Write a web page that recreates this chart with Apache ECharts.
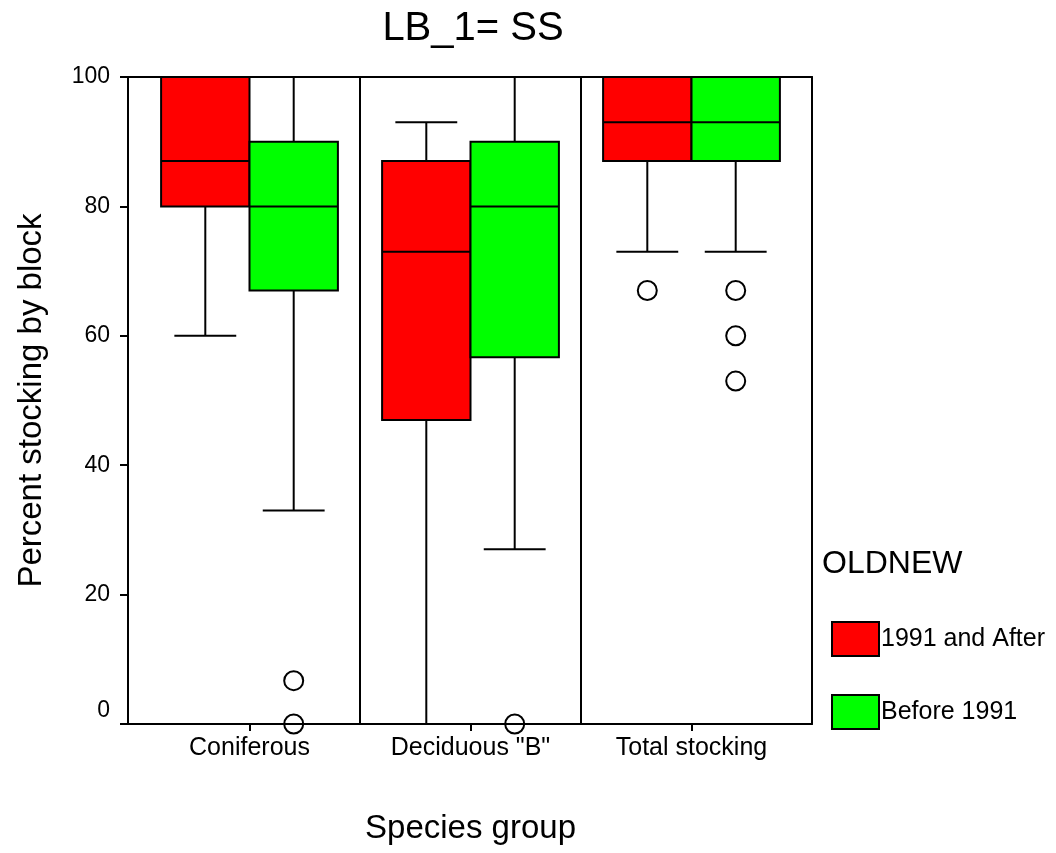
<!DOCTYPE html>
<html>
<head>
<meta charset="utf-8">
<title>LB_1= SS</title>
<script src="https://cdn.jsdelivr.net/npm/echarts@6/dist/echarts.min.js"></script>
<style>
  html, body { margin: 0; padding: 0; background: #fff; }
  #chart { width: 1056px; height: 853px; }
</style>
</head>
<body>
<div id="chart"></div>
<script>
// Species groups along the x axis
const categories = ['Coniferous', 'Deciduous "B"', 'Total stocking'];
// OLDNEW groups
const groupNames = ['1991 and After', 'Before 1991'];
const groupColors = ['#ff0000', '#00ff00'];

// Box statistics per category: [min, Q1, median, Q3, max]
const statsAfter1991 = [
  [60, 80, 87, 100, 100],
  [0, 47, 73, 87, 93],
  [73, 87, 93, 100, 100]
];
const statsBefore1991 = [
  [33, 67, 80, 90, 100],
  [27, 56.7, 80, 90, 100],
  [73, 87, 93, 100, 100]
];

// Outliers per group: [category index, value]
const outliersAfter1991 = [
  [2, 67]
];
const outliersBefore1991 = [
  [0, 6.7], [0, 0],
  [1, 0],
  [2, 67], [2, 60], [2, 53]
];

// Y axis ticks
const yMin = 0, yMax = 100, yStep = 20;

const FONT = '"Liberation Sans", Arial, sans-serif';
const BOX_FRAC = 0.4;   // box width as a share of the category band
const CAP_FRAC = 0.28;  // whisker cap width as a share of the band
const OFFSETS = [-0.2, 0.2]; // box centre offsets within the band

function toRows(stats) {
  return stats.map((s, i) => [i].concat(s));
}

function boxRenderer(offsetFrac) {
  return function (params, api) {
    const cat = api.value(0);
    const band = api.size([1, 0])[0];
    const cx = api.coord([cat, 0])[0] + offsetFrac * band;
    const py = (v) => api.coord([cat, v])[1];
    const yLo = py(api.value(1));
    const yQ1 = py(api.value(2));
    const yMed = py(api.value(3));
    const yQ3 = py(api.value(4));
    const yHi = py(api.value(5));
    const half = BOX_FRAC * band / 2;
    const capHalf = CAP_FRAC * band / 2;
    const ls = { stroke: '#000', lineWidth: 2, fill: null };
    return {
      type: 'group',
      children: [
        { type: 'line', shape: { x1: cx, y1: yQ3, x2: cx, y2: yHi }, style: ls },
        { type: 'line', shape: { x1: cx, y1: yQ1, x2: cx, y2: yLo }, style: ls },
        { type: 'line', shape: { x1: cx - capHalf, y1: yHi, x2: cx + capHalf, y2: yHi }, style: ls },
        { type: 'line', shape: { x1: cx - capHalf, y1: yLo, x2: cx + capHalf, y2: yLo }, style: ls },
        {
          type: 'rect',
          shape: { x: cx - half, y: yQ3, width: half * 2, height: yQ1 - yQ3 },
          style: { fill: api.visual('color'), stroke: '#000', lineWidth: 2 }
        },
        { type: 'line', shape: { x1: cx - half, y1: yMed, x2: cx + half, y2: yMed }, style: ls }
      ]
    };
  };
}

function outlierRenderer(offsetFrac) {
  return function (params, api) {
    const cat = api.value(0);
    const band = api.size([1, 0])[0];
    const p = api.coord([cat, api.value(1)]);
    return {
      type: 'circle',
      shape: { cx: p[0] + offsetFrac * band, cy: p[1], r: 9.5 },
      style: { fill: null, stroke: '#000', lineWidth: 2 }
    };
  };
}

const chart = echarts.init(document.getElementById('chart'), null, { renderer: 'canvas' });

const frameLine = { show: true, onZero: false, lineStyle: { color: '#000', width: 2 } };

const option = {
  backgroundColor: '#fff',
  animation: false,
  title: [
    {
      text: 'LB_1= SS',
      left: 468, top: 4, textAlign: 'center',
      textStyle: { fontFamily: FONT, fontSize: 40, fontWeight: 'normal', color: '#000' }
    },
    {
      text: 'OLDNEW',
      left: 817, top: 543,
      textStyle: { fontFamily: FONT, fontSize: 32, fontWeight: 'normal', color: '#000' }
    }
  ],
  legend: {
    orient: 'vertical',
    left: 831, top: 621,
    padding: 0,
    itemWidth: 47, itemHeight: 34, itemGap: 37,
    icon: 'rect',
    itemStyle: { borderColor: '#000', borderWidth: 2 },
    textStyle: { fontFamily: FONT, fontSize: 25, color: '#000', padding: [0, 0, 0, -3] },
    data: groupNames.map((n) => ({ name: n, icon: 'rect' }))
  },
  grid: [
    // plot frame with the value axis
    { left: 128, right: 244, top: 77, bottom: 129, outerBoundsMode: 'none' },
    // category band for the species groups
    { left: 139, right: 254, top: 77, bottom: 129, outerBoundsMode: 'none' }
  ],
  xAxis: [
    {
      gridIndex: 0, type: 'value', min: 0, max: 1, position: 'bottom',
      axisLine: frameLine, axisTick: { show: false }, axisLabel: { show: false }, splitLine: { show: false }
    },
    {
      gridIndex: 0, type: 'value', min: 0, max: 1, position: 'top',
      axisLine: frameLine, axisTick: { show: false }, axisLabel: { show: false }, splitLine: { show: false }
    },
    {
      gridIndex: 1, type: 'category', data: categories, boundaryGap: true,
      name: 'Species group', nameLocation: 'middle', nameGap: 88,
      nameTextStyle: { fontFamily: FONT, fontSize: 33, color: '#000' },
      axisLine: { show: false },
      axisTick: { show: true, alignWithLabel: true, length: 7, lineStyle: { color: '#000', width: 2 } },
      axisLabel: { fontFamily: FONT, fontSize: 25, color: '#000', margin: 12 },
      splitLine: {
        show: true,
        lineStyle: { color: ['rgba(0,0,0,0)', '#000', '#000', 'rgba(0,0,0,0)'], width: 2 }
      }
    }
  ],
  yAxis: [
    {
      gridIndex: 0, type: 'value', min: yMin, max: yMax, interval: yStep, position: 'left',
      name: 'Percent stocking by block', nameLocation: 'middle', nameGap: 80, nameRotate: 90,
      nameTextStyle: { fontFamily: FONT, fontSize: 33, color: '#000' },
      axisLine: frameLine,
      axisTick: { show: true, length: 8, lineStyle: { color: '#000', width: 2 } },
      axisLabel: {
        fontFamily: FONT, fontSize: 23, color: '#000', margin: 18,
        formatter: (v) => (v === 0 ? '{z|0}' : String(v)),
        rich: { z: { fontFamily: FONT, fontSize: 23, color: '#000', padding: [0, 0, 26, 0] } }
      },
      splitLine: { show: false }
    },
    {
      gridIndex: 0, type: 'value', min: yMin, max: yMax, position: 'right',
      axisLine: frameLine, axisTick: { show: false }, axisLabel: { show: false }, splitLine: { show: false }
    },
    {
      gridIndex: 1, type: 'value', min: yMin, max: yMax, show: false
    }
  ],
  series: [
    {
      name: groupNames[0], type: 'custom', xAxisIndex: 2, yAxisIndex: 2,
      itemStyle: { color: groupColors[0] },
      encode: { x: 0, y: [1, 2, 3, 4, 5] },
      renderItem: boxRenderer(OFFSETS[0]),
      data: toRows(statsAfter1991)
    },
    {
      name: groupNames[1], type: 'custom', xAxisIndex: 2, yAxisIndex: 2,
      itemStyle: { color: groupColors[1] },
      encode: { x: 0, y: [1, 2, 3, 4, 5] },
      renderItem: boxRenderer(OFFSETS[1]),
      data: toRows(statsBefore1991)
    },
    {
      name: 'outliers-a', type: 'custom', xAxisIndex: 2, yAxisIndex: 2, z: 3,
      encode: { x: 0, y: 1 },
      renderItem: outlierRenderer(OFFSETS[0]),
      data: outliersAfter1991
    },
    {
      name: 'outliers-b', type: 'custom', xAxisIndex: 2, yAxisIndex: 2, z: 3,
      encode: { x: 0, y: 1 },
      renderItem: outlierRenderer(OFFSETS[1]),
      data: outliersBefore1991
    }
  ]
};

chart.setOption(option);
</script>
</body>
</html>
